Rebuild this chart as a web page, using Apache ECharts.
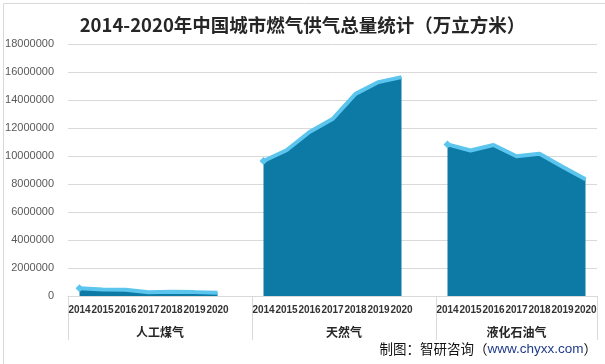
<!DOCTYPE html>
<html>
<head>
<meta charset="utf-8">
<script src="https://cdn.jsdelivr.net/npm/echarts@6/dist/echarts.min.js"></script>
<style>html,body{margin:0;padding:0;background:#fff}#c{width:605px;height:364px}</style>
</head>
<body>
<div id="c"></div>
<script>
var years = ['2014', '2015', '2016', '2017', '2018', '2019', '2020'];
var groups = ['人工煤气', '天然气', '液化石油气'];
var manufacturedGas = [559500, 471400, 440900, 270900, 297900, 276800, 231400];
var naturalGas = [9643800, 10407900, 11717200, 12637500, 14439500, 15279400, 15637000];
var lpg = [10828490, 10392570, 10788000, 9985000, 10153000, 9230000, 8339000];
var yTicks = [0, 2000000, 4000000, 6000000, 8000000, 10000000, 12000000, 14000000, 16000000, 18000000];

var groupValues = [manufacturedGas, naturalGas, lpg];
var categories = [];
var values = [];
var groupSpans = [];
groupValues.forEach(function (arr, g) {
  var start = categories.length;
  arr.forEach(function (v, i) {
    categories.push(years[i]);
    values.push(i === 0 ? {value: v, symbol: 'diamond', symbolSize: 8} : v);
  });
  if (g < groupValues.length - 1) { categories.push(''); values.push(null); }
  groupSpans.push([start, categories.length]);
});
var n = categories.length;
var halfSlots = [];
for (var i = 0; i <= n * 2; i++) halfSlots.push(String(i));
var sepIdx = groupSpans.map(function (s) { return s[0] * 2; }).concat([n * 2]);
var labelIdx = groupSpans.map(function (s) { return s[0] + s[1]; });

var chart = echarts.init(document.getElementById('c'));
chart.setOption({
  backgroundColor: '#fff',
  animation: false,
  title: [{
    text: '2014-2020年中国城市燃气供气总量统计（万立方米）',
    left: 'center', top: 11,
    textStyle: {fontFamily: 'Noto Sans CJK SC', fontWeight: 'bold', fontSize: 18.5, color: '#262626'}
  }, {
    text: '{a|制图：智研咨询（}{b|www.chyxx.com}{a|）}',
    right: 3, bottom: 3,
    textStyle: {fontWeight: 'normal', rich: {
      a: {fontFamily: 'Noto Sans CJK SC', fontSize: 13.5, fontWeight: 'normal', color: '#111'},
      b: {fontFamily: 'Liberation Sans', fontSize: 13.5, fontWeight: 'normal', color: '#1f3a8a'}
    }}
  }],
  graphic: [{
    type: 'rect', left: 1, top: 1, z: -1,
    shape: {width: 602, height: 361},
    style: {fill: 'none', stroke: '#d9d9d9', lineWidth: 1}
  }],
  grid: {left: 68, right: 8, top: 44, bottom: 68},
  xAxis: [{
    type: 'category', data: categories, boundaryGap: true,
    axisLine: {lineStyle: {color: '#d9d9d9'}},
    axisTick: {show: false},
    axisLabel: {interval: 0, margin: 9, color: '#333', fontWeight: 'bold', fontSize: 10, fontFamily: 'Liberation Sans'}
  }, {
    type: 'category', data: halfSlots, boundaryGap: false, position: 'bottom',
    axisLine: {show: false},
    axisTick: {show: true, length: 44, interval: function (i) { return sepIdx.indexOf(i) >= 0; }, lineStyle: {color: '#d9d9d9'}},
    axisLabel: {
      interval: function (i) { return labelIdx.indexOf(i) >= 0; },
      formatter: function (v, i) { var k = labelIdx.indexOf(i); return k >= 0 ? groups[k] : ''; },
      margin: 30, color: '#262626', fontWeight: 'bold', fontSize: 12, fontFamily: 'Noto Sans CJK SC'
    }
  }],
  yAxis: {
    type: 'value', min: yTicks[0], max: yTicks[yTicks.length - 1], interval: yTicks[1] - yTicks[0],
    axisLine: {show: false}, axisTick: {show: false},
    axisLabel: {margin: 14, color: '#595959', fontSize: 11, fontFamily: 'Liberation Sans', formatter: function (v) { return String(v); }},
    splitLine: {lineStyle: {color: '#d9d9d9'}}
  },
  series: [{
    type: 'line', data: values, xAxisIndex: 0,
    symbol: 'none', showSymbol: true, connectNulls: false,
    itemStyle: {color: '#5bc5ee'},
    lineStyle: {color: '#5bc5ee', width: 4},
    areaStyle: {color: '#0d7aa6', opacity: 1}
  }]
});
</script>
</body>
</html>
